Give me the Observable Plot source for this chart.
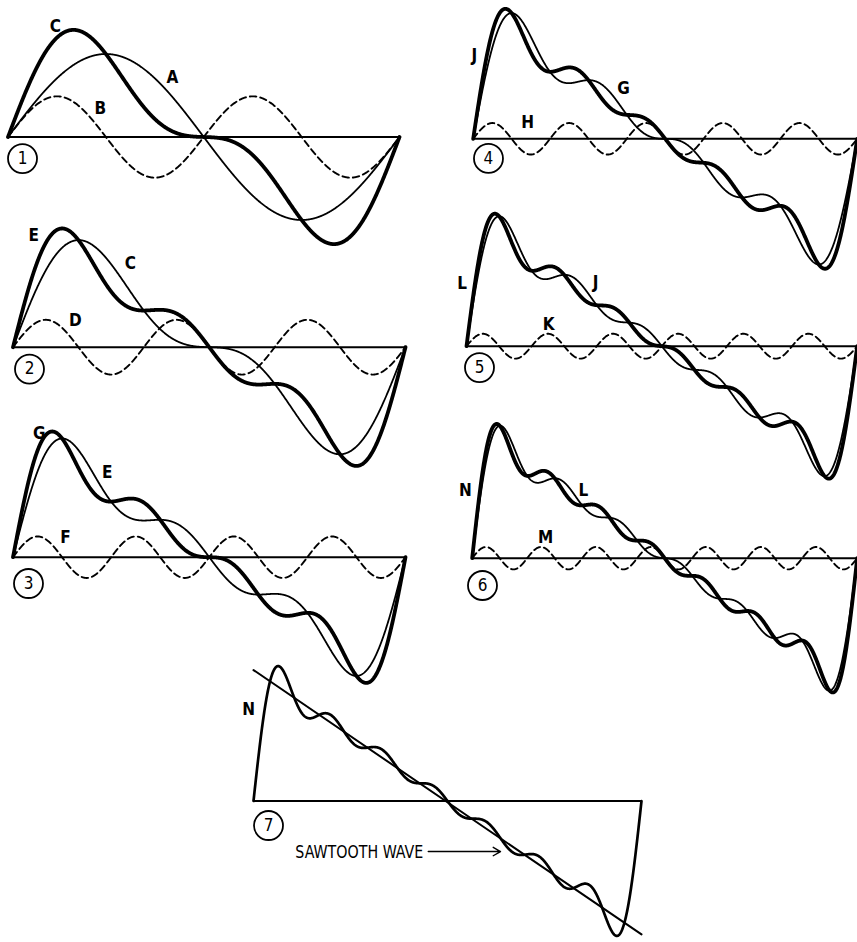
<!DOCTYPE html>
<html><head><meta charset="utf-8">
<script src="https://cdn.jsdelivr.net/npm/d3@7"></script>
<script src="https://cdn.jsdelivr.net/npm/@observablehq/plot@0.6"></script>
<style>
html,body{margin:0;padding:0;background:#fff;}
#page{position:relative;width:857px;height:942px;overflow:hidden;background:#fff;}
#page svg{position:absolute;left:0;top:0;background:transparent;overflow:visible;}
</style></head><body><div id="page"></div>
<script>
// ---- data ----
// harmonic number k and its amplitude relative to the fundamental (curve A)
const harmonics  = [1, 2, 3, 4, 5, 6, 7];
const amplitudes = [1.00, 0.49, 0.33, 0.25, 0.19, 0.15, 0.135];
// names of the partial sums (fundamental + harmonics up to k)
const sumNames = ["A", "C", "E", "G", "J", "L", "N"];
// names of the single harmonics (dashed)
const harmonicNames = ["A", "B", "D", "F", "H", "K", "M"];
const panelNumbers = ["1", "2", "3", "4", "5", "6", "7"];
// value of the ideal sawtooth line at the start and end of the period
const sawtoothEnds = [1.57, -1.6];
const arrowText = "SAWTOOTH WAVE";

// ---- layout (pixels on the page) ----
const TAU = 2 * Math.PI;
const panels = [
  {x0: 7.5,  x1: 399,   y0: 136.5, u: 83},
  {x0: 12.5, x1: 405,   y0: 346.7, u: 83},
  {x0: 12.5, x1: 405,   y0: 556.7, u: 83},
  {x0: 472.7,x1: 856.7, y0: 138.3, u: 83},
  {x0: 466,  x1: 856.7, y0: 345.7, u: 83},
  {x0: 471.7,x1: 856.7, y0: 557.7, u: 83},
  {x0: 253,  x1: 641,   y0: 800.5, u: 83.4}
];
// label anchors in each panel's data units [x (radians), y (amplitude)]
const labelSpots = [
  {thick: [0.76, 1.33],  thin: [2.64, 0.72], dash: [1.48, 0.34], num: [0.233, -0.26]},
  {thick: [0.33, 1.35],  thin: [1.88, 1.01], dash: [1.00, 0.32], num: [0.264, -0.263]},
  {thick: [0.42, 1.49],  thin: [1.51, 1.02], dash: [0.84, 0.24], num: [0.248, -0.317]},
  {thick: [0.02, 1.00],  thin: [2.46, 0.61], dash: [0.89, 0.20], num: [0.25, -0.237]},
  {thick: [-0.07, 0.755],thin: [2.075,0.767],dash: [1.32, 0.26], num: [0.209, -0.257]},
  {thick: [-0.11, 0.816],thin: [1.816,0.816],dash: [1.20, 0.25], num: [0.168, -0.329]},
  {thick: [-0.08, 1.10], num: [0.243, -0.294], text: [2.75, -0.617], arrow: [2.83, 4.0, -0.606]}
];

const font = "'DejaVu Sans Condensed','Liberation Sans Narrow','DejaVu Sans',sans-serif";
const grid = d3.range(0, 1201).map(i => i / 1200 * TAU);
const harmonic = k => grid.map(x => ({x, y: amplitudes[k - 1] * Math.sin(harmonics[k - 1] * x)}));
const partial = n => grid.map(x => ({x, y: d3.sum(harmonics.slice(0, n), (k, i) => amplitudes[i] * Math.sin(k * x))}));

const page = document.getElementById("page");

function txt(pos, t, extra = {}) {
  return Plot.text([t], {x: pos[0], y: pos[1], text: d => d, fontFamily: font, fontSize: 17,
    fontWeight: "bold", fill: "black", ...extra});
}

panels.forEach((p, i) => {
  const n = i + 1;
  const L = labelSpots[i];
  const marks = [
    Plot.ruleY([0], {x1: 0, x2: TAU, stroke: "black", strokeWidth: 2})
  ];
  if (n < 7) {
    marks.push(
      Plot.line(harmonic(n + 1), {x: "x", y: "y", stroke: "black", strokeWidth: 1.9, strokeDasharray: "6.5,4"}),
      Plot.line(partial(n), {x: "x", y: "y", stroke: "black", strokeWidth: 1.8}),
      Plot.line(partial(n + 1), {x: "x", y: "y", stroke: "black", strokeWidth: 3.8, strokeLinejoin: "round"}),
      txt(L.thick, sumNames[n]),
      txt(L.thin, sumNames[n - 1]),
      txt(L.dash, harmonicNames[n])
    );
  } else {
    marks.push(
      Plot.line([{x: 0, y: sawtoothEnds[0]}, {x: TAU, y: sawtoothEnds[1]}], {x: "x", y: "y", stroke: "black", strokeWidth: 2}),
      Plot.line(partial(7), {x: "x", y: "y", stroke: "black", strokeWidth: 2.7}),
      txt(L.thick, sumNames[6]),
      txt(L.text, arrowText, {textAnchor: "end", fontWeight: "normal", fontSize: 18, className: "saw-label"}),
      Plot.arrow([0], {x1: L.arrow[0], x2: L.arrow[1], y1: L.arrow[2], y2: L.arrow[2], stroke: "black",
        strokeWidth: 1.4, headLength: 9, bend: 0})
    );
  }
  marks.push(
    Plot.dot([0], {x: L.num[0], y: L.num[1], r: 14.5, stroke: "black", strokeWidth: 1.8, fill: "white"}),
    txt(L.num, panelNumbers[i], {fontSize: 17, fontWeight: "normal"})
  );
  const chart = Plot.plot({
    width: 857, height: 942, margin: 0,
    x: {domain: [0, TAU], range: [p.x0, p.x1], axis: null},
    y: {domain: [-1, 1], range: [p.y0 + p.u, p.y0 - p.u], axis: null},
    style: {background: "transparent", overflow: "visible"},
    marks
  });
  page.appendChild(chart);
});
// narrow the long caption to the condensed width of the original lettering
d3.selectAll(".saw-label text").attr("textLength", 128).attr("lengthAdjust", "spacingAndGlyphs");
</script></body></html>
